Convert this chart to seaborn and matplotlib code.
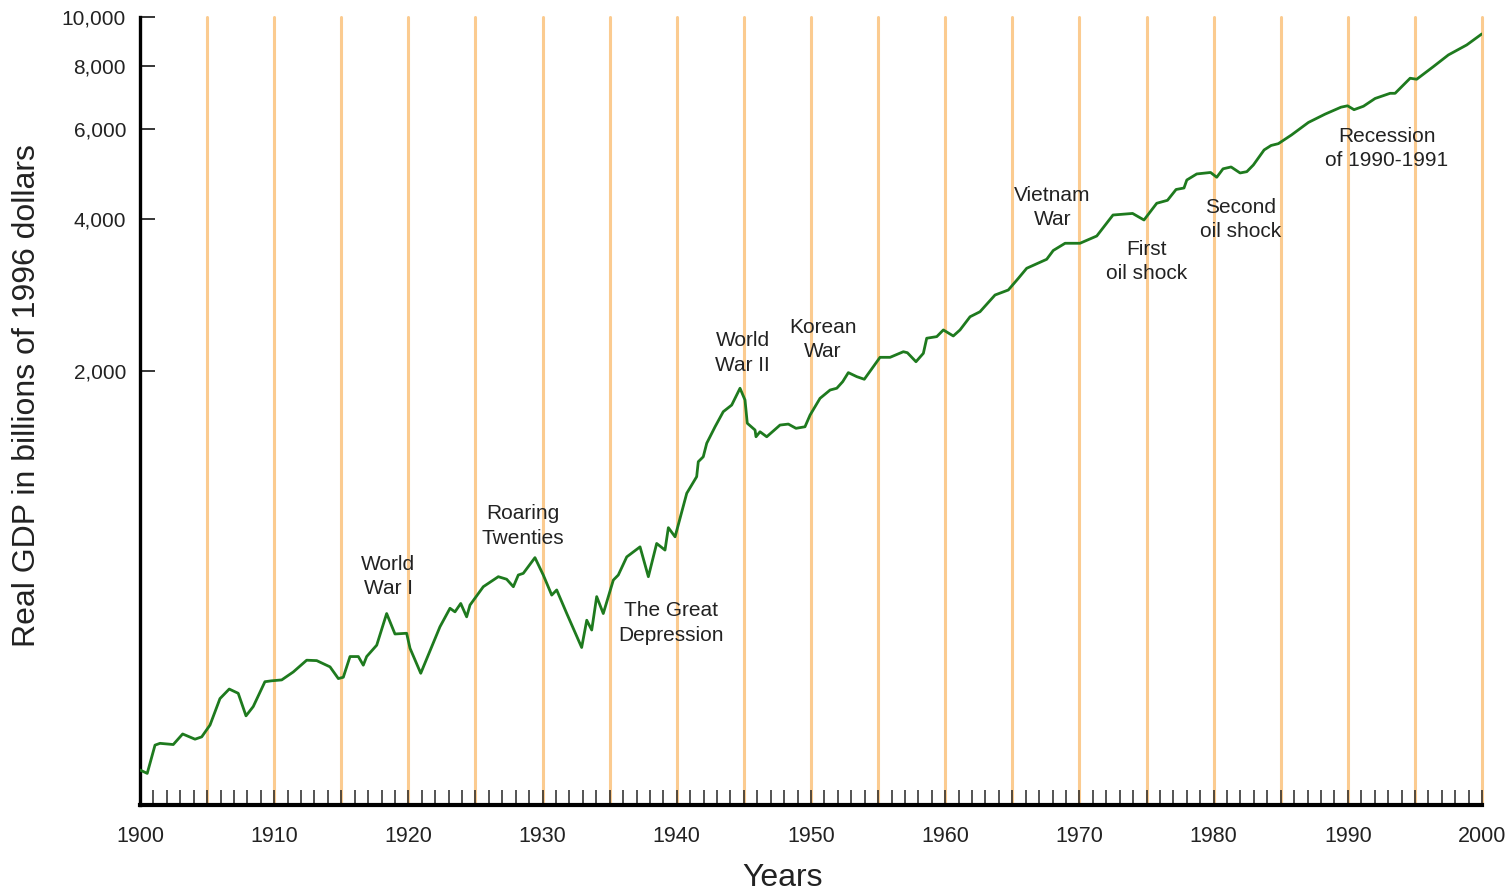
import matplotlib
matplotlib.use('Agg')
import matplotlib.pyplot as plt
import matplotlib.ticker as mticker
import pandas as pd
import seaborn as sns

# Real GDP (billions of 1996 dollars)
years = [1900.0, 1900.54, 1901.12, 1901.49, 1902.48, 1903.18, 1904.10, 1904.60, 1905.22, 1905.96,
         1906.65, 1907.32, 1907.90, 1908.44, 1909.31, 1909.81, 1910.56, 1911.42, 1912.42, 1913.17,
         1914.16, 1914.78, 1915.15, 1915.65, 1916.27, 1916.64, 1916.89, 1917.64, 1918.38, 1919.00,
         1919.87, 1920.12, 1920.92, 1922.35, 1923.10, 1923.47, 1923.90, 1924.34, 1924.59, 1925.58,
         1926.70, 1927.32, 1927.82, 1928.19, 1928.56, 1929.43, 1930.05, 1930.68, 1931.05, 1931.80,
         1932.91, 1933.29, 1933.66, 1934.03, 1934.52, 1935.27, 1935.64, 1936.27, 1937.26, 1937.88,
         1938.50, 1939.12, 1939.37, 1939.87, 1940.74, 1941.48, 1941.60, 1941.97, 1942.23, 1942.85,
         1943.46, 1944.09, 1944.71, 1945.08, 1945.25, 1945.83, 1945.90, 1946.20, 1946.70, 1947.69,
         1948.31, 1948.88, 1949.55, 1949.93, 1950.67, 1951.42, 1951.92, 1952.36, 1952.78, 1953.41,
         1953.97, 1955.14, 1955.89, 1956.88, 1957.18, 1957.82, 1958.37, 1958.62, 1959.37, 1959.86,
         1960.60, 1961.10, 1961.85, 1962.59, 1963.71, 1964.70, 1965.45, 1966.07, 1967.56, 1968.05,
         1968.93, 1970.04, 1971.29, 1972.50, 1973.96, 1974.81, 1975.76, 1976.56, 1977.20, 1977.79,
         1978.00, 1978.74, 1979.77, 1980.23, 1980.70, 1981.30, 1981.97, 1982.47, 1982.96, 1983.76,
         1984.28, 1984.82, 1985.80, 1987.06, 1988.30, 1989.49, 1989.98, 1990.46, 1991.16, 1992.03,
         1993.15, 1993.52, 1994.64, 1995.13, 1996.37, 1997.49, 1998.86, 1999.98]
gdp = [326, 321, 365, 368, 366, 384, 375, 379, 400, 451,
       471, 462, 417, 435, 487, 489, 491, 509, 537, 536,
       521, 494, 497, 546, 546, 525, 546, 575, 664, 605,
       607, 567, 506, 625, 680, 669, 695, 654, 690, 750,
       785, 776, 750, 791, 797, 856, 791, 722, 739, 664,
       569, 644, 616, 717, 664, 773, 791, 859, 899, 785,
       913, 886, 981, 941, 1147, 1237, 1324, 1354, 1440, 1552,
       1662, 1713, 1849, 1753, 1577, 1529, 1483, 1517, 1483, 1564,
       1571, 1541, 1552, 1637, 1766, 1834, 1849, 1905, 1985, 1949,
       1926, 2128, 2128, 2183, 2173, 2086, 2167, 2321, 2338, 2410,
       2345, 2410, 2559, 2618, 2825, 2890, 3048, 3190, 3323, 3459,
       3574, 3574, 3694, 4064, 4093, 3973, 4287, 4345, 4564, 4595,
       4765, 4898, 4931, 4825, 5014, 5056, 4920, 4949, 5102, 5463,
       5575, 5621, 5848, 6190, 6428, 6635, 6677, 6560, 6663, 6903,
       7067, 7067, 7568, 7534, 7978, 8414, 8806, 9256]

events = ['World\nWar I', 'Roaring\nTwenties', 'The Great\nDepression', 'World\nWar II',
          'Korean\nWar', 'Vietnam\nWar', 'First\noil shock', 'Second\noil shock',
          'Recession\nof 1990-1991']
event_years = [1918.5, 1928.5, 1939.6, 1944.9, 1950.9, 1968.0, 1975.0, 1982.0, 1992.9]
event_gdp = [787, 988, 636, 2170, 2308, 4206, 3290, 3982, 5500]

y_ticks = [2000, 4000, 6000, 8000, 10000]
x_ticks = list(range(1900, 2001, 10))

df = pd.DataFrame({'year': years, 'gdp': gdp})

sns.set_style('white')
plt.rcParams['font.family'] = ['Liberation Sans', 'DejaVu Sans']

fig = plt.figure(figsize=(15.1, 8.92), dpi=100)
ax = fig.add_axes([0.0927, 0.0975, 0.8888, 0.8835])

# orange guide lines every five years
for yr in range(1905, 2001, 5):
    ax.axvline(yr, color='#fbcb90', lw=2.2, zorder=0, clip_on=False)

sns.lineplot(data=df, x='year', y='gdp', ax=ax, color='#1e7a1e', lw=2.0,
             sort=False, estimator=None, zorder=3)

ax.set_yscale('log')
ax.set_xlim(1900, 2000)
ax.set_ylim(278, 10000)
ax.set_yticks(y_ticks)
ax.yaxis.set_major_formatter(mticker.FuncFormatter(lambda v, p: f'{int(v):,}'))
ax.yaxis.set_minor_locator(mticker.NullLocator())
ax.set_xticks(x_ticks)
ax.xaxis.set_minor_locator(mticker.MultipleLocator(1))

ax.tick_params(axis='y', which='major', direction='in', length=11, width=1.3,
               labelsize=15, labelcolor='#222222', pad=10, left=True)
ax.tick_params(axis='x', which='major', direction='in', length=11, width=1.1,
               labelsize=15.5, labelcolor='#222222', pad=15, bottom=True)
ax.tick_params(axis='x', which='minor', direction='in', length=11, width=1.1, bottom=True)

for side in ['top', 'right']:
    ax.spines[side].set_visible(False)
ax.spines['left'].set_linewidth(2.4)
ax.spines['bottom'].set_linewidth(3.0)
ax.spines['left'].set_color('black')
ax.spines['bottom'].set_color('black')

ax.set_xlabel('Years', fontsize=23, color='#222222')
ax.set_ylabel('Real GDP in billions of 1996 dollars', fontsize=23, color='#222222')
ax.xaxis.set_label_coords(0.479, -0.074)
ax.yaxis.set_label_coords(-0.073, 0.52)

for txt, ex, ey in zip(events, event_years, event_gdp):
    ax.text(ex, ey, txt, ha='center', va='center', multialignment='center',
            fontsize=15, color='#222222', linespacing=1.35, zorder=4)

fig.savefig('out.png', dpi=100)
